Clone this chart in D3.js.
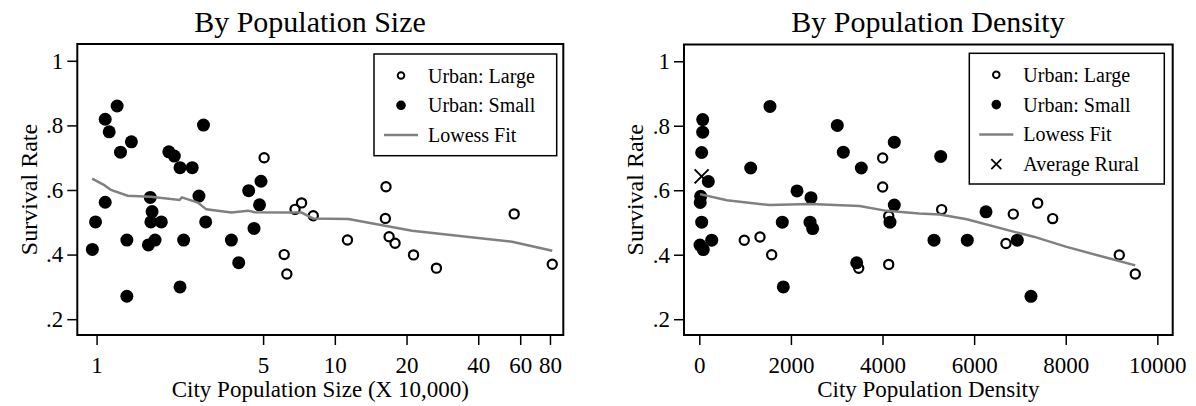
<!DOCTYPE html>
<html>
<head>
<meta charset="utf-8">
<script src="https://cdn.jsdelivr.net/npm/d3@7"></script>
<style>
body { margin: 0; background: #fff; }
svg text { font-family: "Liberation Serif", "Times New Roman", serif; fill: #000; }
</style>
</head>
<body>
<svg id="chart" width="1196" height="406"></svg>
<script>
// Values; each city appears in both panels
const largeSize     = [5.05, 6.13, 6.29, 6.81, 7.25, 8.12, 11.3, 16.3, 16.4, 16.9, 17.9, 21.4, 26.7, 56.6, 81.8];
const largeDensity  = [4003, 1580, 9518, 5291, 7387, 4135, 982, 7715, 4003, 1325, 6695, 9169, 3480, 6855, 4135];
const largeSurvival = [0.70, 0.40, 0.34, 0.54, 0.56, 0.52, 0.445, 0.512, 0.61, 0.455, 0.435, 0.399, 0.358, 0.526, 0.37];

const smallSize     = [1.22, 1.087, 1.13, 1.40, 1.26, 2.01, 2.12, 2.81, 2.24, 2.52, 1.087, 0.99, 1.68, 1.71, 1.69, 1.87,
                       2.69, 2.87, 4.35, 4.90, 4.83, 4.58, 3.68, 0.96, 1.34, 1.65, 1.76, 2.32, 3.95, 1.34, 2.24];
const smallDensity  = [1543, 74, 74, 4257, 52, 3144, 5270, 3013, 1122, 3537, 20, 52, 2438, 6259, 1812, 2417,
                       30, 4163, 2133, 197, 4257, 2475, 5124, 87, 271, 15, 5851, 6942, 3436, 7241, 1834];
const smallSurvival = [0.86, 0.819, 0.78, 0.749, 0.717, 0.718, 0.705, 0.801, 0.669, 0.669, 0.562, 0.501, 0.577, 0.533, 0.501, 0.501,
                       0.581, 0.501, 0.598, 0.627, 0.554, 0.481, 0.445, 0.416, 0.445, 0.43, 0.445, 0.445, 0.375, 0.271, 0.30];

const ruralDensity  = [50];
const ruralSurvival = [0.643];

const sizeLowessX = [0.958, 1.077, 1.149, 1.35, 1.69, 2.23, 2.28, 2.66, 2.89, 3.68, 4.32, 4.61, 6.17, 7.25, 8.1, 11.4, 21.1, 55.5, 81.8];
const sizeLowessY = [0.635, 0.615, 0.600, 0.582, 0.579, 0.569, 0.577, 0.561, 0.540, 0.530, 0.536, 0.531, 0.530, 0.530, 0.512, 0.510, 0.474, 0.440, 0.412];
const densLowessX = [15, 600, 1540, 2420, 3500, 4090, 4800, 5250, 5840, 6900, 7300, 8000, 9040, 9518];
const densLowessY = [0.588, 0.569, 0.554, 0.557, 0.551, 0.536, 0.528, 0.525, 0.510, 0.470, 0.456, 0.425, 0.385, 0.367];

const sizeTicks = [1, 5, 10, 20, 40, 60, 80];
const densityTicks = [0, 2000, 4000, 6000, 8000, 10000];
const rateTicks = [0.2, 0.4, 0.6, 0.8, 1];

const GRAY = '#808080';
const svg = d3.select('#chart');

const zip = (xs, ys) => xs.map((x, i) => ({ x, y: ys[i] }));

function drawPanel(opt) {
    const { left, right, top, bottom } = opt.frame;
    const g = svg.append('g');

    const x = opt.xScale.range([left, right]);
    const y = d3.scaleLinear().domain([0.151, 1.052]).range([bottom, top]);

    // title
    g.append('text')
        .attr('x', opt.titleX).attr('y', 32)
        .attr('text-anchor', 'middle')
        .style('font-size', '30px')
        .text(opt.title);

    // axes
    const yAxis = g.append('g')
        .attr('transform', `translate(${left},0)`)
        .call(d3.axisLeft(y).tickValues(rateTicks).tickSize(10).tickPadding(4)
            .tickFormat(d => d === 1 ? '1' : String(d).replace('0.', '.')));
    yAxis.select('.domain').remove();
    yAxis.selectAll('line').attr('stroke-width', 1.5);
    yAxis.selectAll('text').style('font-size', '23px').attr('font-family', null);

    const xAxis = g.append('g')
        .attr('transform', `translate(0,${bottom})`)
        .call(d3.axisBottom(x).tickValues(opt.ticks).tickSize(10).tickPadding(11.5)
            .tickFormat(d3.format('d')));
    xAxis.select('.domain').remove();
    xAxis.selectAll('line').attr('stroke-width', 1.5);
    xAxis.selectAll('text').style('font-size', '23px').attr('font-family', null);

    g.append('text')
        .attr('transform', `translate(${left - 49},${(top + bottom) / 2}) rotate(-90)`)
        .attr('text-anchor', 'middle')
        .attr('dy', '0.35em')
        .style('font-size', '24px')
        .text('Survival Rate');

    g.append('text')
        .attr('x', (left + right) / 2).attr('y', 397)
        .attr('text-anchor', 'middle')
        .style('font-size', '23px')
        .text(opt.xTitle);

    // points
    g.selectAll('.large')
        .data(zip(opt.largeX, largeSurvival))
        .enter().append('circle')
        .attr('cx', d => x(d.x)).attr('cy', d => y(d.y))
        .attr('r', 4.6)
        .attr('fill', 'none').attr('stroke', '#000').attr('stroke-width', 2.2);

    g.selectAll('.small')
        .data(zip(opt.smallX, smallSurvival))
        .enter().append('circle')
        .attr('cx', d => x(d.x)).attr('cy', d => y(d.y))
        .attr('r', 6.5)
        .attr('fill', '#000');

    if (opt.rural) {
        const s = 7;
        zip(ruralDensity, ruralSurvival).forEach(d => {
            const cx = x(d.x), cy = y(d.y);
            g.append('path')
                .attr('d', `M${cx - s},${cy - s}L${cx + s},${cy + s}M${cx - s},${cy + s}L${cx + s},${cy - s}`)
                .attr('stroke', '#000').attr('stroke-width', 2);
        });
    }

    g.append('path')
        .datum(zip(opt.lowessX, opt.lowessY))
        .attr('fill', 'none')
        .attr('stroke', GRAY)
        .attr('stroke-width', 2.5)
        .attr('d', d3.line().x(d => x(d.x)).y(d => y(d.y)));

    // frame
    g.append('rect')
        .attr('x', left).attr('y', top)
        .attr('width', right - left).attr('height', bottom - top)
        .attr('fill', 'none').attr('stroke', '#000').attr('stroke-width', 2);

    // legend
    const lg = opt.legend;
    const items = [
        { label: 'Urban: Large', kind: 'open' },
        { label: 'Urban: Small', kind: 'filled' },
        { label: 'Lowess Fit', kind: 'line' }
    ];
    if (opt.rural) items.push({ label: 'Average Rural', kind: 'cross' });

    g.append('rect')
        .attr('x', lg.x).attr('y', lg.y)
        .attr('width', lg.w).attr('height', lg.h)
        .attr('fill', '#fff').attr('stroke', '#000').attr('stroke-width', 1.5);

    items.forEach((it, i) => {
        const cy = lg.y + 21.5 + i * 29.8;
        const mx = lg.x + 27;
        if (it.kind === 'open') {
            g.append('circle').attr('cx', mx).attr('cy', cy).attr('r', 3.3)
                .attr('fill', 'none').attr('stroke', '#000').attr('stroke-width', 1.9);
        } else if (it.kind === 'filled') {
            g.append('circle').attr('cx', mx).attr('cy', cy).attr('r', 4.8).attr('fill', '#000');
        } else if (it.kind === 'line') {
            g.append('line').attr('x1', mx - 17).attr('x2', mx + 17).attr('y1', cy).attr('y2', cy)
                .attr('stroke', GRAY).attr('stroke-width', 2.5);
        } else {
            const s = 5;
            g.append('path')
                .attr('d', `M${mx - s},${cy - s}L${mx + s},${cy + s}M${mx - s},${cy + s}L${mx + s},${cy - s}`)
                .attr('stroke', '#000').attr('stroke-width', 1.8);
        }
        g.append('text')
            .attr('x', lg.x + 54).attr('y', cy + 7)
            .style('font-size', '20px')
            .text(it.label);
    });
}

drawPanel({
    title: 'By Population Size',
    titleX: 310,
    xTitle: 'City Population Size (X 10,000)',
    frame: { left: 77.3, right: 563.3, top: 44, bottom: 335 },
    xScale: d3.scaleLog().domain([0.83, 91]),
    ticks: sizeTicks,
    largeX: largeSize,
    smallX: smallSize,
    lowessX: sizeLowessX,
    lowessY: sizeLowessY,
    rural: false,
    legend: { x: 374, y: 54, w: 182.7, h: 101.7 }
});

drawPanel({
    title: 'By Population Density',
    titleX: 928,
    xTitle: 'City Population Density',
    frame: { left: 684, right: 1172.7, top: 44.5, bottom: 335 },
    xScale: d3.scaleLinear().domain([-334, 10335]),
    ticks: densityTicks,
    largeX: largeDensity,
    smallX: smallDensity,
    lowessX: densLowessX,
    lowessY: densLowessY,
    rural: true,
    legend: { x: 969.3, y: 53.3, w: 195, h: 130.7 }
});
</script>
</body>
</html>
